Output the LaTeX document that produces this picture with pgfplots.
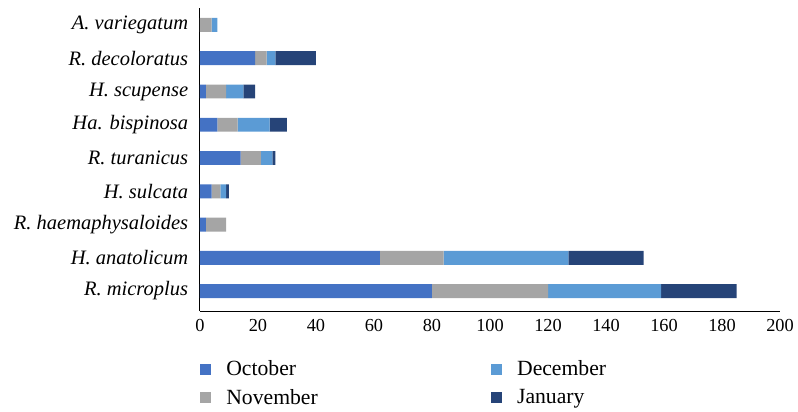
\documentclass[border=0pt]{standalone}
\usepackage{fontspec}
\setmainfont{Liberation Serif}
\usepackage{pgfplots}
\usepackage{pgfplotstable}
\pgfplotsset{compat=1.18}

\definecolor{oct}{HTML}{4472C4}
\definecolor{nov}{HTML}{A5A5A5}
\definecolor{dec}{HTML}{5B9BD5}
\definecolor{jan}{HTML}{264478}

% y = row position from the bottom
\pgfplotstableread{
y  oct nov dec jan
0  80  40  39  26
1  62  22  43  26
2  2   7   0   0
3  4   3   2   1
4  14  7   4   1
5  6   7   11  6
6  2   7   6   4
7  19  4   3   14
8  0   4   2   0
}\ticks

\begin{document}
\begin{tikzpicture}
\useasboundingbox (-120pt,-60pt) rectangle (358.8pt,186.6pt);
\begin{axis}[
    at={(0,0)}, anchor=south west,
    scale only axis,
    width=348pt, height=181.8pt,
    xbar stacked,
    bar width=0.42,
    xmin=0, xmax=200,
    ymin=-0.6, ymax=8.51,
    xtick={0,20,...,200},
    ytick={0,...,8},
    yticklabels={R. microplus, H. anatolicum, R. haemaphysaloides, H. sulcata,
                 R. turanicus, Ha. bispinosa, H. scupense, R. decoloratus, A. variegatum},
    yticklabel style={font=\fontsize{12.3}{14}\selectfont\itshape, xshift=-3.6pt},
    xticklabel style={font=\fontsize{11}{13}\selectfont, yshift=-1.2pt},
    major tick length=0pt,
    axis x line*=bottom,
    axis y line*=left,
    axis line style={black, line width=0.6pt},
    /pgf/number format/assume math mode=true,
    legend columns=2,
    transpose legend,
    legend style={at={(0,-0.159)}, anchor=north west, draw=none,
                  inner sep=0pt, font=\fontsize{13}{15}\selectfont,
                  nodes={inner sep=0.5pt},
                  /tikz/every odd column/.append style={column sep=8.5pt},
                  /tikz/every even column/.append style={column sep=103.5pt},
                  row sep=5.7pt},
    legend cell align=left,
    legend image code/.code={\fill[#1] (0pt,-3.3pt) rectangle (6.6pt,3.3pt);},
]
\addplot[fill=oct, draw=none] table[x=oct, y=y] {\ticks};
\addplot[fill=nov, draw=none] table[x=nov, y=y] {\ticks};
\addplot[fill=dec, draw=none] table[x=dec, y=y] {\ticks};
\addplot[fill=jan, draw=none] table[x=jan, y=y] {\ticks};
\legend{October, November, December, January}
\end{axis}
\end{tikzpicture}
\end{document}
